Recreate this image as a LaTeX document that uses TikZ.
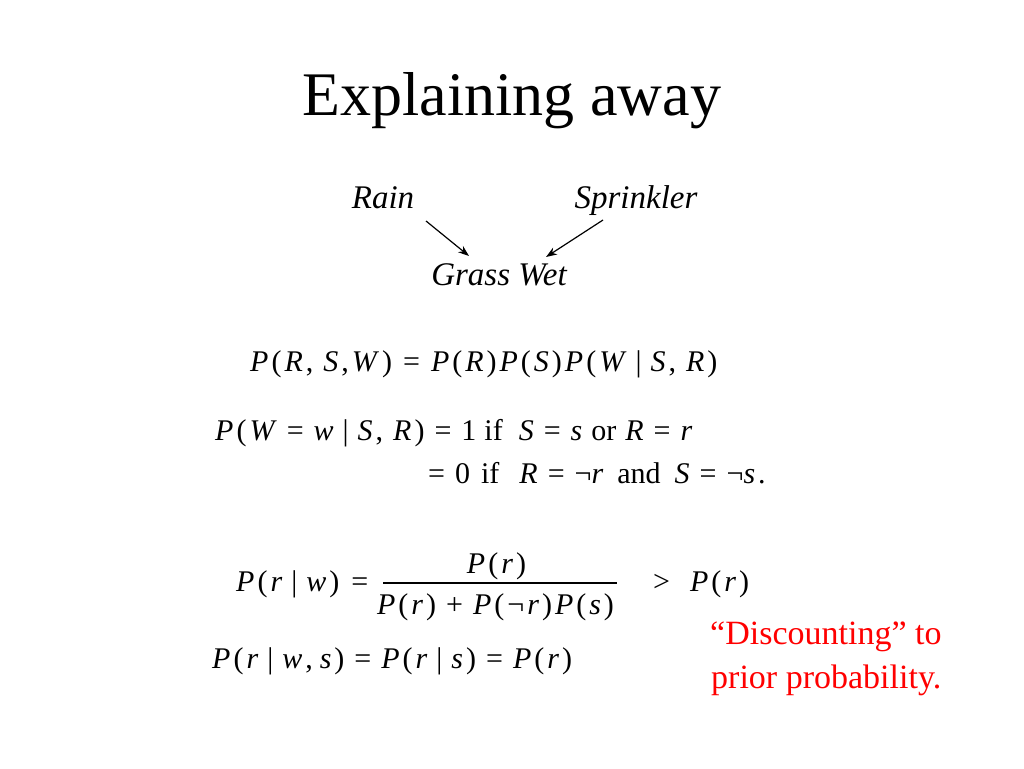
\documentclass[tikz,border=0pt]{standalone}
\usepackage{fontspec}
\setmainfont{Liberation Serif}
\usetikzlibrary{arrows.meta}
\newcommand\I[1]{\textit{#1}}
\newcommand\hs[1]{\hspace{#1pt}}
\newlength\eqgap
\setlength\eqgap{3pt}
\makeatletter
\def\spc#1{\spc@#1\spc@end}
\def\spc@end{\spc@end}
\def\spc@#1{\ifx\spc@end#1\else{#1}\kern\eqgap\expandafter\spc@\fi}
\makeatother
\begin{document}
\begin{tikzpicture}[x=1pt,y=-1pt,
  titletext/.style={font=\fontsize{62}{72}\selectfont, anchor=base, inner sep=0},
  lab/.style={font=\fontsize{33}{40}\selectfont\itshape, anchor=base, inner sep=0},
  eqn/.style={font=\fontsize{30}{38}\selectfont, anchor=base west, inner sep=0},
  eqc/.style={font=\fontsize{30}{38}\selectfont, anchor=base, inner sep=0},
  note/.style={font=\fontsize{34}{42}\selectfont, text=red, anchor=base west, inner sep=0},
  edge/.style={line width=1.2pt, -{Stealth[length=11pt,width=8pt]}}]
\useasboundingbox (0,0) rectangle (1024,768);
\fill[white] (0,0) rectangle (1024,768);
% title
\node[titletext] (title) at (512,115) {Explaining away};
% network
\node[lab] (rain) at (383,208) {Rain};
\node[lab] (sprink) at (636,208) {Sprinkler};
\node[lab] (wet) at (499,285) {Grass Wet};
\coordinate (r1) at (426,221);
\coordinate (r2) at (469,256);
\coordinate (s1) at (603,220);
\coordinate (s2) at (546,257);
\draw[edge] (r1) -- (r2);
\draw[edge] (s1) -- (s2);
% equations
\node[eqn] (eq1) at (250,371) {\spc{{\I P}({\I R},{\hs{4}}{\I S},{\I W}){\hs{5}}={\hs{5}}{\I P}({\I R}){\I P}({\I S}){\I P}({\I W}{\hs{3}}|{\hs{3}}{\I S},{\hs{4}}{\I R})}};
\node[eqn] (eq2) at (215,440) {\spc{{\I P}({\I W}{\hs{4}}={\hs{4}}{\I w}{\hs{3}}|{\hs{3}}{\I S},{\hs{4}}{\I R}){\hs{4}}={\hs{4}}1{\hs{2}}{if}{\hs{10}}{\I S}{\hs{4}}={\hs{4}}{\I s}{\hs{3}}{or}{\hs{3}}{\I R}{\hs{4}}={\hs{4}}{\I r}}};
\node[eqn] (eq3) at (428,483) {\spc{={\hs{4}}0{\hs{5}}{if}{\hs{14}}{\I R}{\hs{4}}={\hs{4}}{¬\I r}{\hs{8}}{and}{\hs{8}}{\I S}{\hs{4}}={\hs{4}}{¬\I s}.}};
% fraction
\node[eqn] (lhs) at (236,591) {\spc{{\I P}({\I r}{\hs{3}}|{\hs{3}}{\I w}){\hs{6}}=}};
\node[eqc] (num) at (498,573) {\spc{{\I P}({\I r})}};
\node[eqc] (den) at (497,614) {\spc{{\I P}({\I r}){\hs{4}}+{\hs{4}}{\I P}(¬{\I r}){\I P}({\I s})}};
\draw[line width=1.2pt] (383,583) -- (617,583);
\node[eqn] (gt) at (653,591) {\spc{>{\hs{14}}{\I P}({\I r})}};
\node[eqn] (eq5) at (212,668) {\spc{{\I P}({\I r}{\hs{3}}|{\hs{3}}{\I w},{\hs{1}}{\I s}){\hs{4}}={\hs{4}}{\I P}({\I r}{\hs{3}}|{\hs{3}}{\I s}){\hs{4}}={\hs{4}}{\I P}({\I r})}};
% note
\node[note] (n1) at (710,644) {“Discounting” to};
\node[note] (n2) at (711,688) {prior probability.};
\end{tikzpicture}
\end{document}
